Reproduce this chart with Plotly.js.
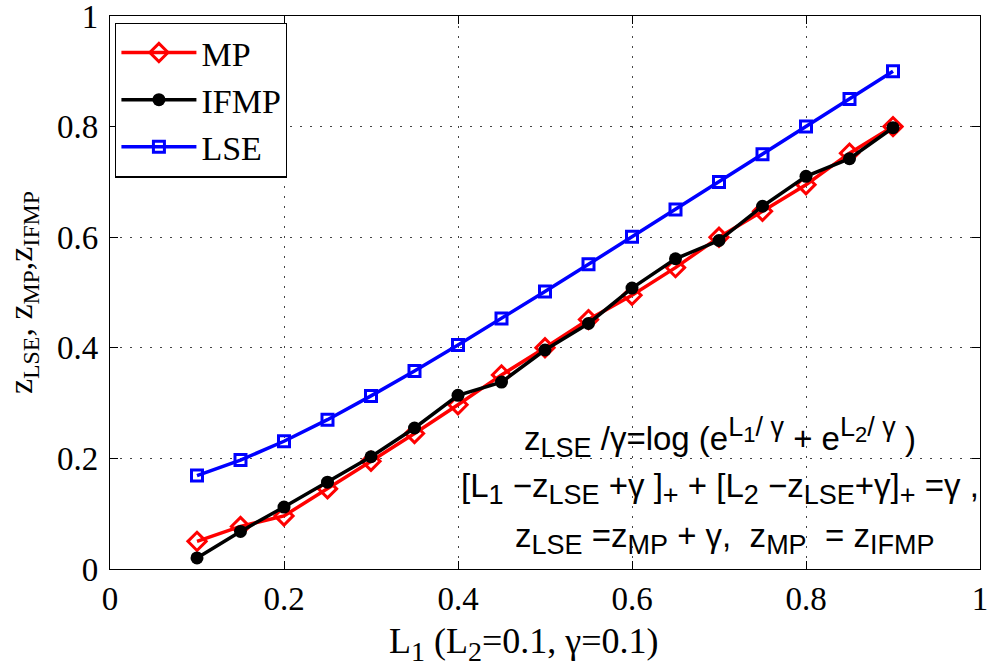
<!DOCTYPE html>
<html>
<head>
<meta charset="utf-8">
<script src="https://cdn.plot.ly/plotly-3.0.1.min.js"></script>
<style>
  html, body { margin: 0; padding: 0; background: #fff; }
  #chart { width: 988px; height: 671px; }
</style>
</head>
<body>
<div id="chart"></div>
<script>
// L1 sweep with L2 = 0.1 and gamma = 0.1
const L1 = [0.1, 0.15, 0.2, 0.25, 0.3, 0.35, 0.4, 0.45, 0.5, 0.55, 0.6, 0.65, 0.7, 0.75, 0.8, 0.85, 0.9];

const zMP   = [0.050, 0.077, 0.096, 0.145, 0.195, 0.245, 0.297, 0.351, 0.400, 0.451, 0.495, 0.545, 0.600, 0.647, 0.695, 0.752, 0.800];
const zIFMP = [0.020, 0.068, 0.112, 0.157, 0.203, 0.255, 0.314, 0.338, 0.396, 0.444, 0.508, 0.561, 0.594, 0.656, 0.710, 0.742, 0.798];
const zLSE  = [0.169, 0.197, 0.231, 0.270, 0.313, 0.358, 0.405, 0.453, 0.502, 0.551, 0.601, 0.650, 0.700, 0.750, 0.800, 0.850, 0.900];

const tickVals = [0, 0.2, 0.4, 0.6, 0.8, 1];
const tickText = ['0', '0.2', '0.4', '0.6', '0.8', '1'];

const serif = 'Liberation Serif, Times New Roman, serif';
const sans = 'Liberation Sans, Arial, sans-serif';

const traces = [
  {
    x: L1, y: zMP, name: 'MP', type: 'scatter', mode: 'lines+markers',
    line: { color: '#ff0000', width: 3.5 },
    marker: { symbol: 'diamond-open', size: 14, color: '#ff0000', line: { width: 3, color: '#ff0000' } }
  },
  {
    x: L1, y: zIFMP, name: 'IFMP', type: 'scatter', mode: 'lines+markers',
    line: { color: '#000000', width: 3.5 },
    marker: { symbol: 'circle', size: 13, color: '#000000' }
  },
  {
    x: L1, y: zLSE, name: 'LSE', type: 'scatter', mode: 'lines+markers',
    line: { color: '#0000ff', width: 3.5 },
    marker: { symbol: 'square-open', size: 11, color: '#0000ff', line: { width: 3, color: '#0000ff' } }
  }
];

const axisCommon = {
  range: [0, 1],
  tickmode: 'array',
  tickvals: tickVals,
  ticktext: tickText,
  ticks: 'inside',
  ticklen: 8,
  tickcolor: '#000',
  tickwidth: 1,
  showline: true,
  linecolor: '#000',
  linewidth: 1.2,
  mirror: 'ticks',
  showgrid: true,
  gridcolor: '#444',
  griddash: '2px,8px',
  gridwidth: 1,
  zeroline: false,
  automargin: false,
  ticklabeloverflow: 'allow',
  tickfont: { family: serif, size: 33, color: '#000' }
};

const eqFont = { family: sans, size: 33, color: '#000' };
// equation pieces: sub/superscripts a little larger than the default 70%
const s = t => '<sub><span style="font-size:27px">' + t + '</span></sub>';
const p = (base, idx) => '<sup><span style="font-size:27px">' + base + '<sub><span style="font-size:22px">' + idx + '</span></sub>/ γ</span></sup>';

const layout = {
  width: 988,
  height: 671,
  margin: { l: 110, r: 8, t: 16, b: 102 },
  paper_bgcolor: '#fff',
  plot_bgcolor: '#fff',
  xaxis: Object.assign({}, axisCommon, { ticklabelstandoff: 0 }),
  yaxis: Object.assign({}, axisCommon, {
    ticklabelstandoff: 4,
    title: {
      text: 'z<sub>LSE</sub>, z<sub>MP</sub>,z<sub>IFMP</sub>',
      font: { family: serif, size: 34, color: '#000' },
      standoff: 14
    }
  }),
  showlegend: true,
  legend: {
    x: 0.006, y: 0.988, xanchor: 'left', yanchor: 'top',
    bgcolor: '#fff', bordercolor: '#000', borderwidth: 1.2,
    font: { family: serif, size: 34, color: '#000' },
    itemwidth: 75,
    tracegroupgap: 0
  },
  annotations: [
    {
      // x-axis title
      xref: 'paper', yref: 'paper', x: 0.476, y: -0.136, xanchor: 'center', yanchor: 'middle',
      showarrow: false, font: { family: serif, size: 36, color: '#000' },
      text: 'L<sub><span style="font-size:28px">1</span></sub> (L<sub><span style="font-size:28px">2</span></sub>=0.1, γ=0.1)'
    },
    {
      xref: 'paper', yref: 'paper', x: 0.701, y: 0.237, xanchor: 'center', yanchor: 'middle',
      showarrow: false, font: eqFont,
      text: 'z' + s('LSE') + ' /γ=log (e' + p('L', '1') + ' + e' + p('L', '2') + ' )'
    },
    {
      xref: 'paper', yref: 'paper', x: 0.701, y: 0.145, xanchor: 'center', yanchor: 'middle',
      showarrow: false, font: eqFont,
      text: '[L' + s('1') + ' −z' + s('LSE') + ' +γ ]' + s('+') + ' + [L' + s('2') + ' −z' + s('LSE') + '+γ]' + s('+') + ' =γ ,'
    },
    {
      xref: 'paper', yref: 'paper', x: 0.706, y: 0.055, xanchor: 'center', yanchor: 'middle',
      showarrow: false, font: eqFont,
      text: 'z' + s('LSE') + ' =z' + s('MP') + ' + γ,  z' + s('MP') + '  = z' + s('IFMP')
    }
  ]
};

Plotly.newPlot('chart', traces, layout, { displayModeBar: false, staticPlot: true });
</script>
</body>
</html>
